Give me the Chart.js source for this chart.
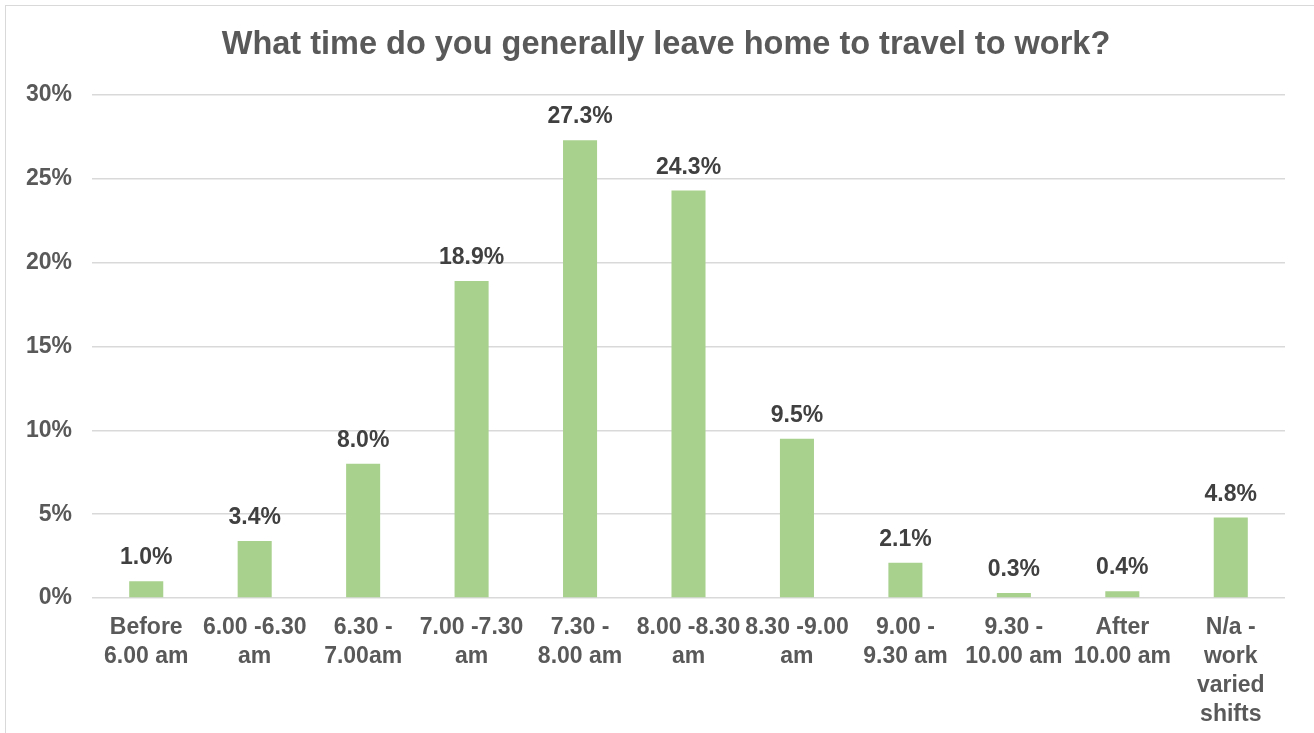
<!DOCTYPE html>
<html>
<head>
<meta charset="utf-8">
<script src="https://cdn.jsdelivr.net/npm/chart.js@4"></script>
<style>
  html, body { margin: 0; padding: 0; background: #fff; overflow: hidden; }
  #frame {
    position: absolute; left: 5px; top: 5px; width: 1340px; height: 780px;
    border: 1px solid #d9d9d9; box-sizing: border-box;
  }
  #wrap { position: absolute; left: 6px; top: 6px; width: 1320px; height: 760px; }
</style>
</head>
<body>
<div id="frame"></div>
<div id="wrap"><canvas id="chart"></canvas></div>
<script>
// departure time slots and share of respondents (%)
var slots = [
  ['Before', '6.00 am'],
  ['6.00 -6.30', 'am'],
  ['6.30 -', '7.00am'],
  ['7.00 -7.30', 'am'],
  ['7.30 -', '8.00 am'],
  ['8.00 -8.30', 'am'],
  ['8.30 -9.00', 'am'],
  ['9.00 -', '9.30 am'],
  ['9.30 -', '10.00 am'],
  ['After', '10.00 am'],
  ['N/a -', 'work', 'varied', 'shifts']
];
var shares = [1.0, 3.4, 8.0, 18.9, 27.3, 24.3, 9.5, 2.1, 0.3, 0.4, 4.8];
var yTicks = [0, 5, 10, 15, 20, 25, 30];

var FONT = '"Liberation Sans", Arial, sans-serif';
var GREY = '#595959';

// value labels above every bar
var barLabels = {
  id: 'barLabels',
  afterDatasetsDraw: function(chart) {
    var ctx = chart.ctx;
    var meta = chart.getDatasetMeta(0);
    ctx.save();
    ctx.font = 'bold 23px ' + FONT;
    ctx.fillStyle = '#404040';
    ctx.textAlign = 'center';
    ctx.textBaseline = 'alphabetic';
    meta.data.forEach(function(bar, i) {
      ctx.fillText(shares[i].toFixed(1) + '%', bar.x, bar.y - 17);
    });
    ctx.restore();
  }
};

var ctx = document.getElementById('chart').getContext('2d');
new Chart(ctx, {
  type: 'bar',
  data: {
    labels: slots,
    datasets: [{
      data: shares,
      yAxisID: 'y',
      backgroundColor: '#a9d18e',
      borderWidth: 0,
      categoryPercentage: 1,
      barPercentage: 0.314
    }]
  },
  options: {
    responsive: true,
    maintainAspectRatio: false,
    animation: false,
    layout: { padding: 0 },
    plugins: {
      legend: { display: false },
      tooltip: { enabled: false },
      title: {
        display: true,
        text: 'What time do you generally leave home to travel to work?',
        color: GREY,
        font: { family: FONT, size: 32.5, weight: 'bold', lineHeight: 1.2 },
        padding: { top: 20, bottom: 30 }
      }
    },
    scales: {
      x: {
        grid: { display: false, drawTicks: false },
        border: { display: false },
        ticks: {
          color: GREY,
          font: { family: FONT, size: 23, weight: 'bold', lineHeight: 1.26 },
          padding: 15,
          autoSkip: false,
          maxRotation: 0,
          minRotation: 0
        },
        afterFit: function(scale) { scale.height = 168; }
      },
      y: {
        min: 0,
        max: 30,
        afterBuildTicks: function(scale) {
          scale.ticks = yTicks.map(function(v) { return { value: v }; });
        },
        grid: { color: '#d9d9d9', lineWidth: 1.5, drawTicks: false },
        border: { display: false },
        ticks: {
          color: GREY,
          font: { family: FONT, size: 23, weight: 'bold' },
          padding: 20,
          callback: function(v) { return v + '%'; }
        },
        afterFit: function(scale) { scale.width = 86; }
      },
      // empty right-hand margin so the title stays centred on the canvas
      yRight: {
        position: 'right',
        min: 0,
        max: 30,
        grid: { display: false, drawTicks: false },
        border: { display: false },
        ticks: { display: false },
        afterFit: function(scale) { scale.width = 41; }
      }
    }
  },
  plugins: [barLabels]
});
</script>
</body>
</html>
